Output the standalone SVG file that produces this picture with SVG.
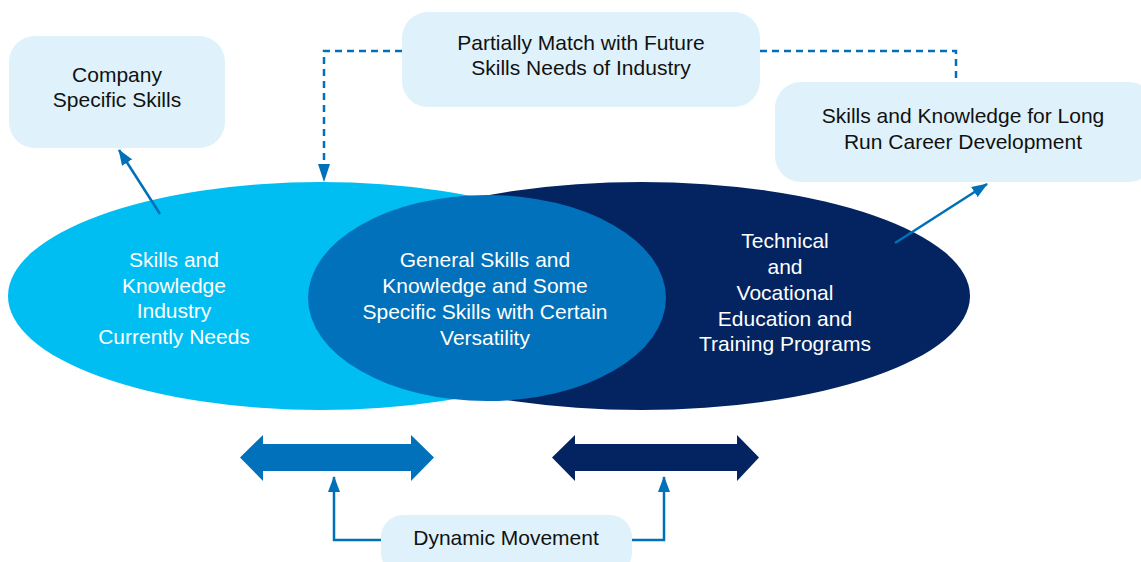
<svg xmlns="http://www.w3.org/2000/svg" width="1141" height="562" viewBox="0 0 1141 562">
<style>
.box{fill:#DFF1FB;}
.t{font-family:"Liberation Sans",Arial,sans-serif;font-size:21px;text-anchor:middle;}
.dk{fill:#111;}
.wt{fill:#fff;}
.ln{fill:none;stroke:#0070B8;stroke-width:2.5;}
.dash{fill:none;stroke:#0070B8;stroke-width:2.5;stroke-dasharray:7,5;}
</style>
<defs>
<marker id="ah" viewBox="0 0 16 12" refX="15" refY="6" markerWidth="16" markerHeight="12" markerUnits="userSpaceOnUse" orient="auto">
<path d="M0,0 L16,6 L0,12 z" fill="#0070B8"/>
</marker>
</defs>
<rect width="1141" height="562" fill="#fff"/>
<g id="ellipse-industry"><ellipse cx="321" cy="296" rx="313" ry="114" fill="#00BEF2"/></g>
<g id="ellipse-tvet"><ellipse cx="641" cy="296" rx="329" ry="114" fill="#032460"/></g>
<g id="ellipse-general"><ellipse cx="487" cy="298" rx="179" ry="103" fill="#0071BA"/></g>
<g id="text-industry" class="t wt">
<text x="174" y="267">Skills and</text>
<text x="174" y="293">Knowledge</text>
<text x="174" y="318">Industry</text>
<text x="174" y="344">Currently Needs</text>
</g>
<g id="text-general" class="t wt">
<text x="485" y="267">General Skills and</text>
<text x="485" y="293">Knowledge and Some</text>
<text x="485" y="319">Specific Skills with Certain</text>
<text x="485" y="345">Versatility</text>
</g>
<g id="text-tvet" class="t wt">
<text x="785" y="248">Technical</text>
<text x="785" y="274">and</text>
<text x="785" y="300">Vocational</text>
<text x="785" y="326">Education and</text>
<text x="785" y="351">Training Programs</text>
</g>
<g id="box-company">
<rect class="box" x="9" y="36" width="216" height="112" rx="26"/>
<text class="t dk" x="117" y="82">Company</text>
<text class="t dk" x="117" y="107">Specific Skills</text>
</g>
<g id="box-partial">
<rect class="box" x="402" y="12" width="358" height="95" rx="26"/>
<text class="t dk" x="581" y="50">Partially Match with Future</text>
<text class="t dk" x="581" y="75">Skills Needs of Industry</text>
</g>
<g id="box-longrun">
<rect class="box" x="775" y="82" width="380" height="100" rx="26"/>
<text class="t dk" x="963" y="123">Skills and Knowledge for Long</text>
<text class="t dk" x="963" y="149">Run Career Development</text>
</g>
<g id="box-dynamic">
<rect class="box" x="381" y="515" width="251" height="60" rx="22"/>
<text class="t dk" x="506" y="545">Dynamic Movement</text>
</g>
<g id="arrow-left"><path d="M240,457.5 L263,435 L263,444 L411,444 L411,435 L434,457.5 L411,481 L411,471 L263,471 L263,481 Z" fill="#0071BA"/></g>
<g id="arrow-right"><path d="M552,457.5 L575,435 L575,444 L737,444 L737,435 L759,457.5 L737,481 L737,471 L575,471 L575,481 Z" fill="#032460"/></g>
<g id="connectors">
<line class="ln" x1="160" y1="214" x2="119" y2="150" marker-end="url(#ah)"/>
<line class="ln" x1="895" y1="243" x2="987" y2="184" marker-end="url(#ah)"/>
<path class="dash" d="M402,51 L324,51 L324,166"/>
<path d="M318,164 L324,182 L330,164 Z" fill="#0070B8"/>
<path class="dash" d="M760,51 L956,51 L956,81"/>
<path class="ln" d="M381,540 L334,540 L334,477" marker-end="url(#ah)"/>
<path class="ln" d="M632,540 L664,540 L664,477" marker-end="url(#ah)"/>
</g>
</svg>
